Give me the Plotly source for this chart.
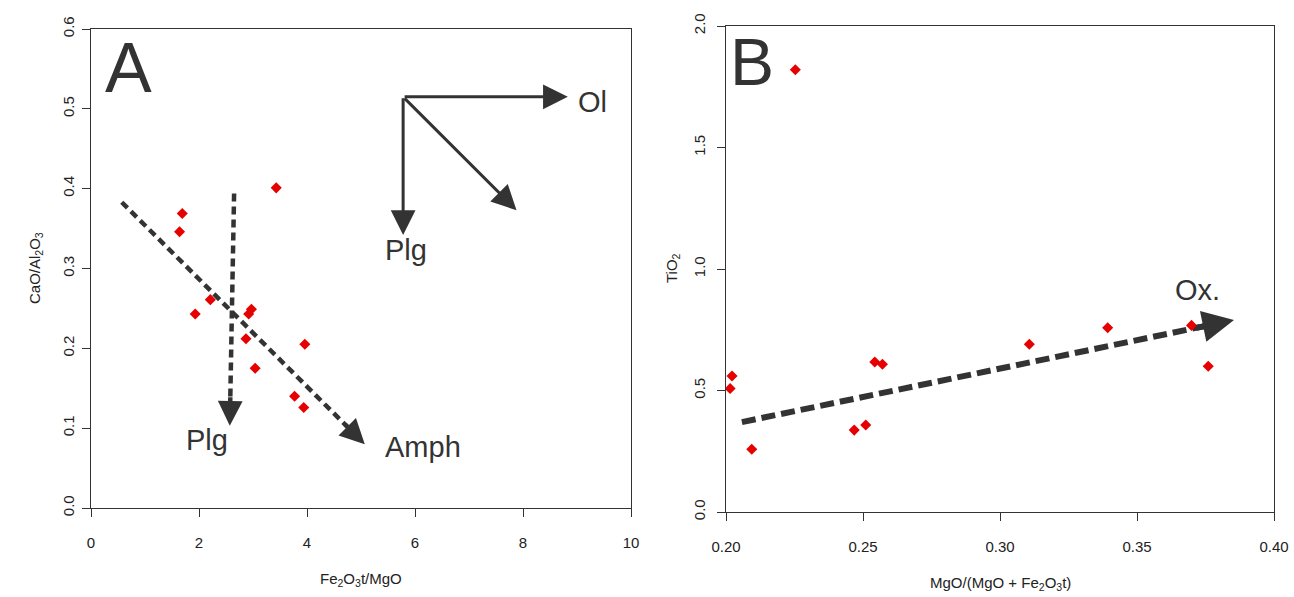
import plotly.graph_objects as go

W, H = 1294, 597
FONT = "Liberation Sans, Arial, Helvetica, sans-serif"
INK = "#333333"
RED = "#e60000"

# ---- Panel A: Fe2O3t/MgO vs CaO/Al2O3 ----
a_fe_mg = [1.69, 1.64, 3.43, 2.21, 1.93, 2.97, 2.92, 2.87, 3.96, 3.04, 3.77, 3.94]
a_ca_al = [0.369, 0.346, 0.401, 0.261, 0.243, 0.249, 0.243, 0.212, 0.205, 0.175, 0.140, 0.126]

# fractionation trends (start, tip)
a_amph_trend = [(0.57, 0.383), (5.07, 0.080)]
a_plg_trend = [(2.65, 0.394), (2.57, 0.103)]
# mineral vectors from a common origin
a_vec_origin = (5.78, 0.515)
a_vec_tips = {"Ol": (8.83, 0.515), "Plg": (5.78, 0.342), "": (7.88, 0.373)}

# ---- Panel B: Mg/(Mg+Fe) vs TiO2 ----
b_mg_num = [0.2253, 0.2022, 0.2015, 0.2094, 0.2468, 0.2510, 0.2543, 0.2571, 0.3107, 0.3393, 0.3699, 0.3760]
b_tio2 = [1.820, 0.560, 0.508, 0.258, 0.337, 0.358, 0.617, 0.608, 0.690, 0.758, 0.768, 0.600]
b_ox_trend = [(0.2058, 0.370), (0.3854, 0.790)]

# text labels (text, x, y)
a_labels = [("Ol", 9.28, 0.509), ("Plg", 5.83, 0.323), ("Plg", 2.15, 0.085), ("Amph", 6.15, 0.076)]
b_labels = [("Ox.", 0.3719, 0.914)]

a_xrange, a_yrange = [0, 10], [0, 0.6]
b_xrange, b_yrange = [0.2, 0.4], [0, 2.0]
a_xdom = [91 / W, 631 / W]
a_ydom = [1 - 508 / H, 1 - 29 / H]
b_xdom = [726 / W, 1274 / W]
b_ydom = [1 - 512 / H, 1 - 26 / H]


def px_scale(xr, yr, xd, yd):
    return (W * (xd[1] - xd[0]) / (xr[1] - xr[0]), H * (yd[1] - yd[0]) / (yr[1] - yr[0]))


a_scale = px_scale(a_xrange, a_yrange, a_xdom, a_ydom)
b_scale = px_scale(b_xrange, b_yrange, b_xdom, b_ydom)


def head_tail(start, tip, scale, length_px):
    """Point a fixed pixel distance back from the tip along the segment."""
    dx = (tip[0] - start[0]) * scale[0]
    dy = (tip[1] - start[1]) * scale[1]
    d = (dx * dx + dy * dy) ** 0.5
    f = length_px / d
    return tip[0] - (tip[0] - start[0]) * f, tip[1] - (tip[1] - start[1]) * f


fig = go.Figure()
annotations = []

# dashed trend lines
for seg in (a_amph_trend, a_plg_trend):
    (x0, y0), (x1, y1) = seg
    hx, hy = head_tail(seg[0], seg[1], a_scale, 22)
    fig.add_trace(go.Scatter(x=[x0, hx], y=[y0, hy], mode="lines",
                             line=dict(color=INK, width=4.5, dash="8px,5px"),
                             xaxis="x", yaxis="y", hoverinfo="skip", showlegend=False))
    tx, ty = head_tail(seg[0], seg[1], a_scale, 30)
    annotations.append(dict(x=x1, y=y1, ax=tx, ay=ty, xref="x", yref="y", axref="x", ayref="y",
                            text="", showarrow=True, arrowhead=2, arrowwidth=4.5, arrowsize=1.1,
                            arrowcolor=INK))

# solid mineral vectors
for name, tip in a_vec_tips.items():
    annotations.append(dict(x=tip[0], y=tip[1], ax=a_vec_origin[0], ay=a_vec_origin[1],
                            xref="x", yref="y", axref="x", ayref="y", text="", showarrow=True,
                            arrowhead=2, arrowwidth=3, arrowsize=1.65, arrowcolor=INK))

fig.add_trace(go.Scatter(x=a_fe_mg, y=a_ca_al, mode="markers",
                         marker=dict(symbol="diamond", size=8.5, color=RED),
                         xaxis="x", yaxis="y", showlegend=False))

# panel B trend
(x0, y0), (x1, y1) = b_ox_trend
hx, hy = head_tail(b_ox_trend[0], b_ox_trend[1], b_scale, 28)
fig.add_trace(go.Scatter(x=[x0, hx], y=[y0, hy], mode="lines",
                         line=dict(color=INK, width=6, dash="14px,6px"),
                         xaxis="x2", yaxis="y2", hoverinfo="skip", showlegend=False))
tx, ty = head_tail(b_ox_trend[0], b_ox_trend[1], b_scale, 40)
annotations.append(dict(x=x1, y=y1, ax=tx, ay=ty, xref="x2", yref="y2", axref="x2", ayref="y2",
                        text="", showarrow=True, arrowhead=2, arrowwidth=6, arrowsize=1.05,
                        arrowcolor=INK))

fig.add_trace(go.Scatter(x=b_mg_num, y=b_tio2, mode="markers",
                         marker=dict(symbol="diamond", size=8.5, color=RED),
                         xaxis="x2", yaxis="y2", showlegend=False))

for text, x, y in a_labels:
    annotations.append(dict(x=x, y=y, xref="x", yref="y", text=text, showarrow=False,
                            font=dict(family=FONT, size=29, color=INK)))
for text, x, y in b_labels:
    annotations.append(dict(x=x, y=y, xref="x2", yref="y2", text=text, showarrow=False,
                            font=dict(family=FONT, size=29, color=INK)))


def paper_text(text, px, py, size, angle=0, color=INK):
    return dict(x=px / W, y=1 - py / H, xref="paper", yref="paper", xanchor="center",
                yanchor="middle", textangle=angle, text=text, showarrow=False,
                font=dict(family=FONT, size=size, color=color))


# panel letters
annotations.append(paper_text("A", 128, 68, 70))
annotations.append(paper_text("B", 752, 62, 66))

# axis titles
annotations.append(paper_text("CaO/Al<sub>2</sub>O<sub>3</sub>", 35, 268, 15, -90, "#222222"))
annotations.append(paper_text("Fe<sub>2</sub>O<sub>3</sub>t/MgO", 361, 579, 15, 0, "#222222"))
annotations.append(paper_text("TiO<sub>2</sub>", 672, 268, 15, -90, "#222222"))
annotations.append(paper_text("MgO/(MgO + Fe<sub>2</sub>O<sub>3</sub>t)", 1000, 583, 15, 0, "#222222"))

tick_font = dict(family=FONT, size=15, color="#222222")
axis_common = dict(showline=True, linecolor="#333333", linewidth=1.3, mirror=True,
                   ticks="outside", ticklen=8, tickwidth=1.1, tickcolor="#333333",
                   showgrid=False, zeroline=False, tickfont=tick_font, fixedrange=True,
                   automargin=False)

fig.update_layout(
    width=W, height=H, autosize=False,
    margin=dict(l=0, r=0, t=0, b=0, autoexpand=False),
    paper_bgcolor="white", plot_bgcolor="white",
    xaxis=dict(domain=a_xdom, range=a_xrange, tickvals=[0, 2, 4, 6, 8, 10],
               anchor="y", ticklabelstandoff=13, **axis_common),
    yaxis=dict(domain=a_ydom, range=a_yrange, tickvals=[0, 0.1, 0.2, 0.3, 0.4, 0.5, 0.6],
               tickformat=".1f", tickangle=-90, anchor="x", ticklabelstandoff=2, **axis_common),
    xaxis2=dict(domain=b_xdom, range=b_xrange, tickvals=[0.20, 0.25, 0.30, 0.35, 0.40],
                tickformat=".2f", anchor="y2", ticklabelstandoff=13, **axis_common),
    yaxis2=dict(domain=b_ydom, range=b_yrange, tickvals=[0, 0.5, 1.0, 1.5, 2.0],
                tickformat=".1f", tickangle=-90, anchor="x2", ticklabelstandoff=6, **axis_common),
    annotations=annotations,
    showlegend=False,
)

fig.write_html("out.html")
